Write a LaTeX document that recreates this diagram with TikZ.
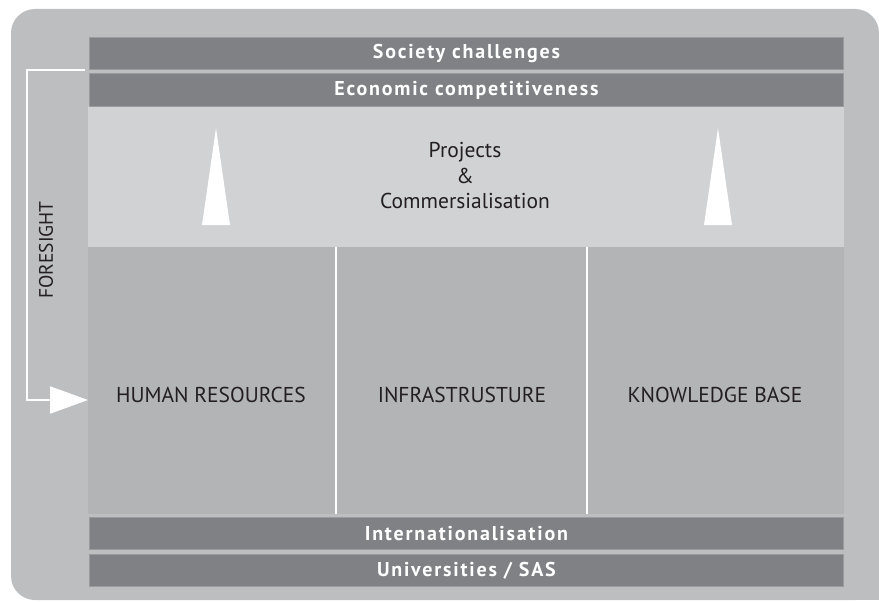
\documentclass[tikz,border=0pt]{standalone}
\usepackage{fontspec}
\setmainfont{PT Sans}
\newfontfamily\barfont{PT Sans}[LetterSpace=9]
\usetikzlibrary{arrows.meta}

\definecolor{panel}{HTML}{BDBEC0}
\definecolor{barfill}{HTML}{808184}
\definecolor{barline}{HTML}{9A9B9D}
\definecolor{bandfill}{HTML}{D1D2D4}
\definecolor{colfill}{HTML}{B3B4B6}
\definecolor{ink}{HTML}{231F20}

\tikzset{
  bar/.style={draw=barline, line width=0.8pt, fill=barfill, inner sep=0pt,
    minimum width=754pt, minimum height=32pt, anchor=north west,
    text=white, font=\barfont\bfseries\fontsize{20}{22}\selectfont},
  column/.style={fill=colfill, inner sep=0pt, minimum height=267pt, anchor=north west},
  label/.style={text=ink, font=\fontsize{21.5}{25.5}\selectfont, align=center, inner sep=0pt},
  spike/.style={fill=white, draw=none},
  divider/.style={white, line width=1.5pt},
  feedback/.style={white, line width=2pt, -{Triangle[length=38pt,width=27pt]}}
}

\begin{document}
\begin{tikzpicture}[x=1pt, y=-1pt]
  \useasboundingbox (0,0) rectangle (879,602);

  % grey panel: rounded on three corners, square at the bottom right
  \fill[panel, rounded corners=24pt] (11,9) rectangle (879,600);
  \fill[panel] (829,550) rectangle (879,600);

  % light band with the two upward spikes
  \node[fill=bandfill, inner sep=0pt, minimum width=756pt, minimum height=141pt,
        anchor=north west] (band) at (88,106) {};
  \fill[spike] (216,128) -- (230,225) -- (202,225) -- cycle;
  \fill[spike] (718,128) -- (732,225) -- (704,225) -- cycle;
  \node[label] (proj) at (465,176) {Projects\\\&\\Commersialisation};

  % three pillars
  \node[column, minimum width=248pt] (hr) at (88,247) {};
  \node[column, minimum width=251pt] (infra) at (336,247) {};
  \node[column, minimum width=257pt] (kb) at (587,247) {};
  \draw[divider] (infra.north west) -- (infra.south west);
  \draw[divider] (kb.north west) -- (kb.south west);
  \node[label] (hrt) at (211,395) {HUMAN RESOURCES};
  \node[label] (inft) at (462,395) {INFRASTRUSTURE};
  \node[label] (kbt) at (715,395) {KNOWLEDGE BASE};

  % horizontal bars
  \node[bar] (soc) at (89,37) {Society challenges};
  \node[bar, minimum height=33pt] (eco) at (89,73) {Economic competitiveness};
  \node[bar] (intl) at (89,517) {Internationalisation};
  \node[bar] (univ) at (89,554) {Universities / SAS};

  % foresight feedback loop
  \coordinate (fstart) at (85,70);
  \coordinate (fcorner1) at (27,70);
  \coordinate (fcorner2) at (27,400);
  \coordinate (ftip) at (88,400);
  \draw[feedback] (fstart) -- (fcorner1) -- (fcorner2) -- (ftip);
  \node[label, rotate=90, font=\fontsize{19.5}{22}\selectfont] (fs) at (46,250) {FORESIGHT};
\end{tikzpicture}
\end{document}
